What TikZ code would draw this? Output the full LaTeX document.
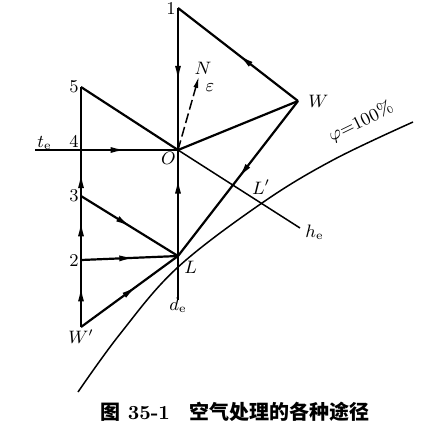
\documentclass[tikz,border=0pt]{standalone}
\usepackage{fontspec}
\newfontfamily\cjk{Noto Sans CJK SC}
\usetikzlibrary{arrows.meta,decorations.markings}

\tikzset{
  proc/.style={line width=1.1pt},
  aux/.style={line width=0.75pt},
  midarr/.style={postaction={decorate,decoration={markings,
      mark=at position #1 with {\arrow{Latex[length=8pt,width=3pt]}}}}},
}

\begin{document}
\begin{tikzpicture}[x=0.5pt,y=-0.5pt,line join=round,
  every node/.style={inner sep=1pt,font=\fontsize{9}{11}\selectfont}]
  \useasboundingbox (0,0) rectangle (444,436);
  % state points
  \coordinate (p1) at (178,8);
  \coordinate (p5) at (81,87);
  \coordinate (p4) at (81,150);
  \coordinate (p3) at (81,196);
  \coordinate (p2) at (81,260);
  \coordinate (Wp) at (81,327);
  \coordinate (O) at (178,150);
  \coordinate (L) at (178,256);
  \coordinate (W) at (298,101);
  \coordinate (N) at (199,76);
  \coordinate (te) at (35,150);
  \coordinate (de) at (178,300);
  \coordinate (he) at (300,228);
  % saturation curve
  \draw[aux] plot[smooth,tension=0.6] coordinates
    {(78,392) (120,334) (177,268) (262,203) (333,160) (413,122)};
  % lines through O
  \draw[aux] (te) -- (p4);
  \draw[proc,midarr=0.47] (p4) -- (O);
  \draw[proc] (p5) -- (O);
  \draw[aux] (O) -- (he);
  \draw[proc,midarr=0.52] (p1) -- (O);
  \draw[proc,midarr=0.74] (L) -- (O);
  \draw[aux] (L) -- (de);
  % outdoor air W
  \draw[proc] (O) -- (W);
  \draw[proc,midarr=0.5] (W) -- (p1);
  \draw[proc,midarr=0.5] (W) -- (L);
  % left column
  \draw[proc] (p5) -- (p4);
  \draw[proc,midarr=0.52] (p3) -- (p4);
  \draw[proc,midarr=0.62] (p2) -- (p3);
  \draw[proc,midarr=0.62] (Wp) -- (p2);
  \draw[proc,midarr=0.52] (p3) -- (L);
  \draw[proc,midarr=0.56] (p2) -- (L);
  \draw[proc,midarr=0.58] (Wp) -- (L);
  % heat-moisture ratio
  \draw[aux,dash pattern=on 5pt off 2pt,-{Latex[length=6pt,width=2.4pt]}] (O) -- (N);
  % labels
  \node[anchor=east] (l1) at (p1) {1};
  \node[anchor=east] (l5) at (p5) {5};
  \node[anchor=south east] (l4) at (p4) {4};
  \node[anchor=east] (l3) at (p3) {3};
  \node[anchor=east] (l2) at (p2) {2};
  \node[anchor=north] (lWp) at (Wp) {$W'$};
  \node[anchor=west] (lW) at ([xshift=4]W) {$W$};
  \node[anchor=north east] (lO) at (O) {$O$};
  \node[anchor=north west] (lL) at ([shift={(4,3)}]L) {$L$};
  \node (lLp) at (261,187) {$L'$};
  \node[anchor=west] (lhe) at ([shift={(3,4)}]he) {$h_{\mathrm{e}}$};
  \node[anchor=north] (lde) at ([yshift=2]de) {$d_{\mathrm{e}}$};
  \node[anchor=south west] (lte) at ([yshift=-1]te) {$t_{\mathrm{e}}$};
  \node (lN) at (203,68) {$N$};
  \node (leps) at (210,88) {$\varepsilon$};
  \node[rotate=26] (lphi) at (361,122) {$\varphi{=}100\%$};
  % caption
  \node[font=\fontsize{10}{12}\selectfont\bfseries] (cap) at (235,412)
    {{\cjk 图} 35-1\quad{\cjk 空气处理的各种途径}};
\end{tikzpicture}
\end{document}
